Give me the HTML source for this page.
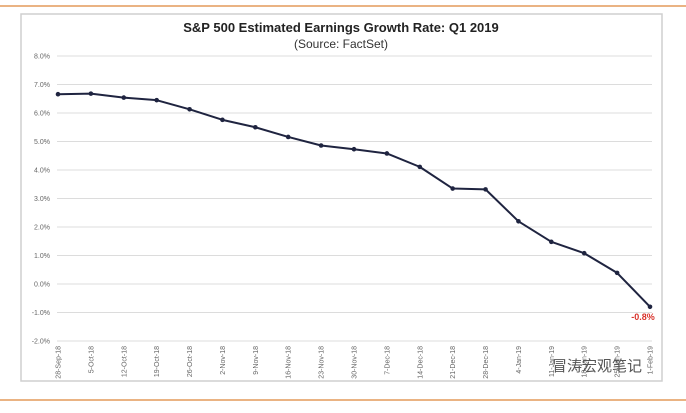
<!DOCTYPE html>
<html><head><meta charset="utf-8"><style>
body{margin:0;background:#fff;width:686px;height:408px;overflow:hidden;font-family:"Liberation Sans",Arial,sans-serif;}
</style></head><body>
<svg id="chart" width="686" height="408" xmlns="http://www.w3.org/2000/svg">
<line x1="0" y1="6" x2="686" y2="6" stroke="#e39a5a" stroke-width="1.5"/>
<line x1="0" y1="400" x2="686" y2="400" stroke="#e39a5a" stroke-width="1.5"/>
<rect x="21" y="14" width="641" height="367" fill="#fff" stroke="#cfcfcf" stroke-width="1.5"/>
<text x="341" y="32" text-anchor="middle" font-size="13" font-weight="bold" fill="#222">S&amp;P 500 Estimated Earnings Growth Rate: Q1 2019</text>
<text x="341" y="48" text-anchor="middle" font-size="12" fill="#333">(Source: FactSet)</text>
<g id="grid"></g><g id="ylabels"></g><g id="xlabels"></g><g id="series"></g>
<text x="552" y="371" font-size="15" fill="#555" font-family="'Liberation Sans','Noto Sans CJK SC',sans-serif">冒涛宏观笔记</text>
</svg>
<script>
const categories=["28-Sep-18","5-Oct-18","12-Oct-18","19-Oct-18","26-Oct-18","2-Nov-18","9-Nov-18","16-Nov-18","23-Nov-18","30-Nov-18","7-Dec-18","14-Dec-18","21-Dec-18","28-Dec-18","4-Jan-19","11-Jan-19","18-Jan-19","25-Jan-19","1-Feb-19"];
const growthValues=[6.66,6.68,6.54,6.45,6.13,5.76,5.5,5.16,4.86,4.73,4.58,4.11,3.35,3.32,2.2,1.48,1.08,0.39,-0.8];
const yTicks=[8,7,6,5,4,3,2,1,0,-1,-2];
const yTickLabels=["8.0%","7.0%","6.0%","5.0%","4.0%","3.0%","2.0%","1.0%","0.0%","-1.0%","-2.0%"];
const NS="http://www.w3.org/2000/svg";
const yScale=v=>56+(8-v)*28.5;
const xScale=i=>58+i*(650-58)/(categories.length-1);
function mk(tag,attrs,parent){const e=document.createElementNS(NS,tag);for(const k in attrs)e.setAttribute(k,attrs[k]);document.getElementById(parent).appendChild(e);return e;}
yTicks.forEach((t,i)=>{
 const l=mk("line",{x1:57,x2:652,y1:yScale(t),y2:yScale(t),stroke:"#dcdcdc","stroke-width":1},"grid");
 
 
 const tx=mk("text",{x:50,y:yScale(t)+2.5,"text-anchor":"end","font-size":7,fill:"#666"},"ylabels");
 tx.textContent=yTickLabels[i];
 
 
});
categories.forEach((c,i)=>{
 const x=xScale(i);
 const tx=mk("text",{x:0,y:0,"text-anchor":"end","font-size":7,fill:"#666",transform:`translate(${x+2.5},346) rotate(-90)`},"xlabels");
 tx.textContent=c;
 
 
});
const pts=growthValues.map((v,i)=>xScale(i)+","+yScale(v)).join(" ");
const pl=mk("polyline",{points:pts,fill:"none",stroke:"#1f2440","stroke-width":2,"stroke-linejoin":"round"},"series");


growthValues.forEach((v,i)=>{
 const c=mk("circle",{cx:xScale(i),cy:yScale(v),r:2.3,fill:"#1f2440"},"series");
 
 
});
const last=growthValues.length-1;
const lab=mk("text",{x:xScale(last)-7,y:yScale(growthValues[last])+13,"text-anchor":"middle","font-size":9,"font-weight":"bold",fill:"#d8322b"},"series");
lab.textContent=growthValues[last].toFixed(1)+"%";


</script>
</body></html>
